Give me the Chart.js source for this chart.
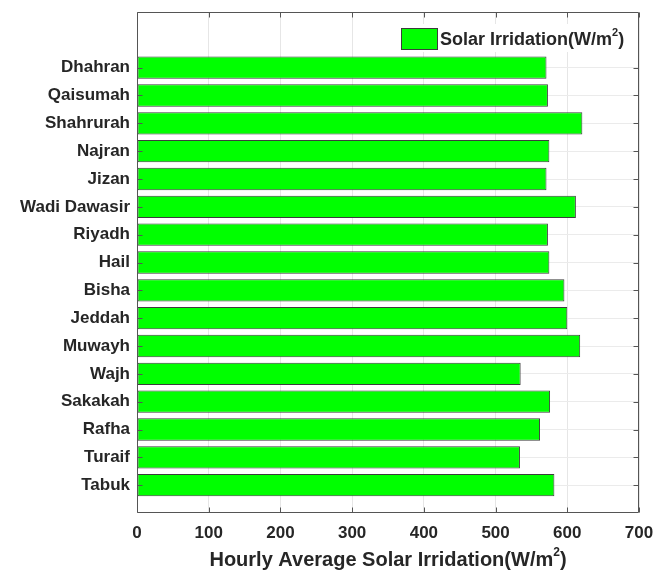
<!DOCTYPE html>
<html>
<head>
<meta charset="utf-8">
<script src="https://cdn.jsdelivr.net/npm/chart.js@4"></script>
<style>
html,body{margin:0;padding:0;background:#fff;}
#wrap{width:667px;height:574px;}
</style>
</head>
<body>
<div id="wrap"><canvas id="c" width="667" height="574"></canvas></div>
<script>
// bottom to top
const cities = ['Tabuk','Turaif','Rafha','Sakakah','Wajh','Muwayh','Jeddah','Bisha','Hail','Riyadh','Wadi Dawasir','Jizan','Najran','Shahrurah','Qaisumah','Dhahran'];
const irradiation = [582, 534, 562, 576, 535, 618, 600, 596, 575, 573, 612, 571, 575, 621, 573, 571];
const xTicks = [0, 100, 200, 300, 400, 500, 600, 700];
const seriesLabel = 'Solar Irridation(W/m²)';
const xTitle = 'Hourly Average Solar Irridation(W/m²)';

const FONT = "'Liberation Sans', Arial, sans-serif";
const TXT = '#262626';
const AX = '#555555';

function drawSupText(ctx, text, x, y, size) {
  const parts = text.split('²');
  let cx = x;
  ctx.textBaseline = 'middle';
  ctx.textAlign = 'left';
  parts.forEach((p, i) => {
    ctx.font = 'bold ' + size + 'px ' + FONT;
    ctx.fillText(p, cx, y);
    cx += ctx.measureText(p).width;
    if (i < parts.length - 1) {
      ctx.font = 'bold ' + Math.round(size * 0.62) + 'px ' + FONT;
      ctx.fillText('2', cx, y - size * 0.38);
      cx += ctx.measureText('2').width;
    }
  });
}
function supWidth(ctx, text, size) {
  const parts = text.split('²');
  let w = 0;
  parts.forEach((p, i) => {
    ctx.font = 'bold ' + size + 'px ' + FONT; w += ctx.measureText(p).width;
    if (i < parts.length - 1) { ctx.font = 'bold ' + Math.round(size * 0.62) + 'px ' + FONT; w += ctx.measureText('2').width; }
  });
  return w;
}

const framePlugin = {
  id: 'frame',
  afterDatasetsDraw(chart) {
    const ctx = chart.ctx;
    const a = chart.chartArea;
    const xs = chart.scales.x, ys = chart.scales.y;
    ctx.save();
    ctx.strokeStyle = AX;
    ctx.lineWidth = 1;
    ctx.beginPath();
    const L = Math.round(a.left) + 0.5, R = Math.round(a.right) - 0.5;
    const T = Math.round(a.top) + 0.5, B = Math.round(a.bottom) - 0.5;
    ctx.rect(L, T, R - L, B - T);
    const tl = 5;
    xs.ticks.forEach(t => {
      const px = Math.round(xs.getPixelForValue(t.value)) + 0.5;
      ctx.moveTo(px, B); ctx.lineTo(px, B - tl);
      ctx.moveTo(px, T); ctx.lineTo(px, T + tl);
    });
    ys.ticks.forEach(t => {
      const py = Math.round(ys.getPixelForValue(t.value)) + 0.5;
      ctx.moveTo(L, py); ctx.lineTo(L + tl, py);
      ctx.moveTo(R, py); ctx.lineTo(R - tl, py);
    });
    ctx.stroke();

    // legend (inside, top right)
    const ds = chart.data.datasets[0];
    const lx = a.left + 264;
    const ly = a.top + 12;
    ctx.fillStyle = '#ffffff';
    ctx.fillRect(lx - 6, ly, 236, 28);
    ctx.fillStyle = ds.backgroundColor;
    ctx.fillRect(lx, ly + 4, 36, 21);
    ctx.strokeStyle = ds.borderColor;
    ctx.strokeRect(Math.round(lx) + 0.5, Math.round(ly + 4) + 0.5, 36, 21);
    ctx.fillStyle = TXT;
    drawSupText(ctx, ds.label, lx + 39, ly + 16, 18);
    ctx.restore();
  }
};

const xTitlePlugin = {
  id: 'xtitle',
  afterDraw(chart) {
    const ctx = chart.ctx;
    const a = chart.chartArea;
    ctx.save();
    ctx.fillStyle = TXT;
    const w = supWidth(ctx, xTitle, 20);
    const cx = (a.left + a.right) / 2;
    drawSupText(ctx, xTitle, cx - w / 2, 560, 20);
    ctx.restore();
  }
};

new Chart(document.getElementById('c'), {
  type: 'bar',
  data: {
    datasets: [{
      label: seriesLabel,
      data: cities.map((c, i) => ({ x: irradiation[i], y: i + 1 })),
      backgroundColor: '#00ff00',
      borderColor: '#3c3c3c',
      borderWidth: 1,
      borderSkipped: false,
      barPercentage: 0.8,
      categoryPercentage: 1.0
    }]
  },
  plugins: [framePlugin, xTitlePlugin],
  options: {
    indexAxis: 'y',
    responsive: false,
    animation: false,
    layout: { padding: { left: 0, right: 28, top: 12, bottom: 0 } },
    plugins: {
      legend: { display: false },
      tooltip: { enabled: false }
    },
    scales: {
      x: {
        type: 'linear',
        min: 0, max: 700,
        afterBuildTicks(s) { s.ticks = xTicks.map(v => ({ value: v })); },
        afterFit(s) { s.height = 61; },
        grid: { color: '#e6e6e6', drawTicks: false },
        border: { display: false },
        ticks: { color: TXT, font: { family: FONT, size: 17, weight: 'bold' }, padding: 10, maxRotation: 0 }
      },
      y: {
        type: 'linear',
        offset: false,
        min: 0, max: 18,
        afterBuildTicks(s) { s.ticks = cities.map((c, i) => ({ value: i + 1 })); },
        afterFit(s) { s.width = 137; s.paddingTop = 0; s.paddingBottom = 0; },
        grid: { color: '#ebebeb', drawTicks: false, offset: false },
        border: { display: false },
        ticks: {
          color: TXT, font: { family: FONT, size: 17, weight: 'bold' }, padding: 7,
          callback: (v) => cities[v - 1] || ''
        }
      }
    }
  }
});
</script>
</body>
</html>
